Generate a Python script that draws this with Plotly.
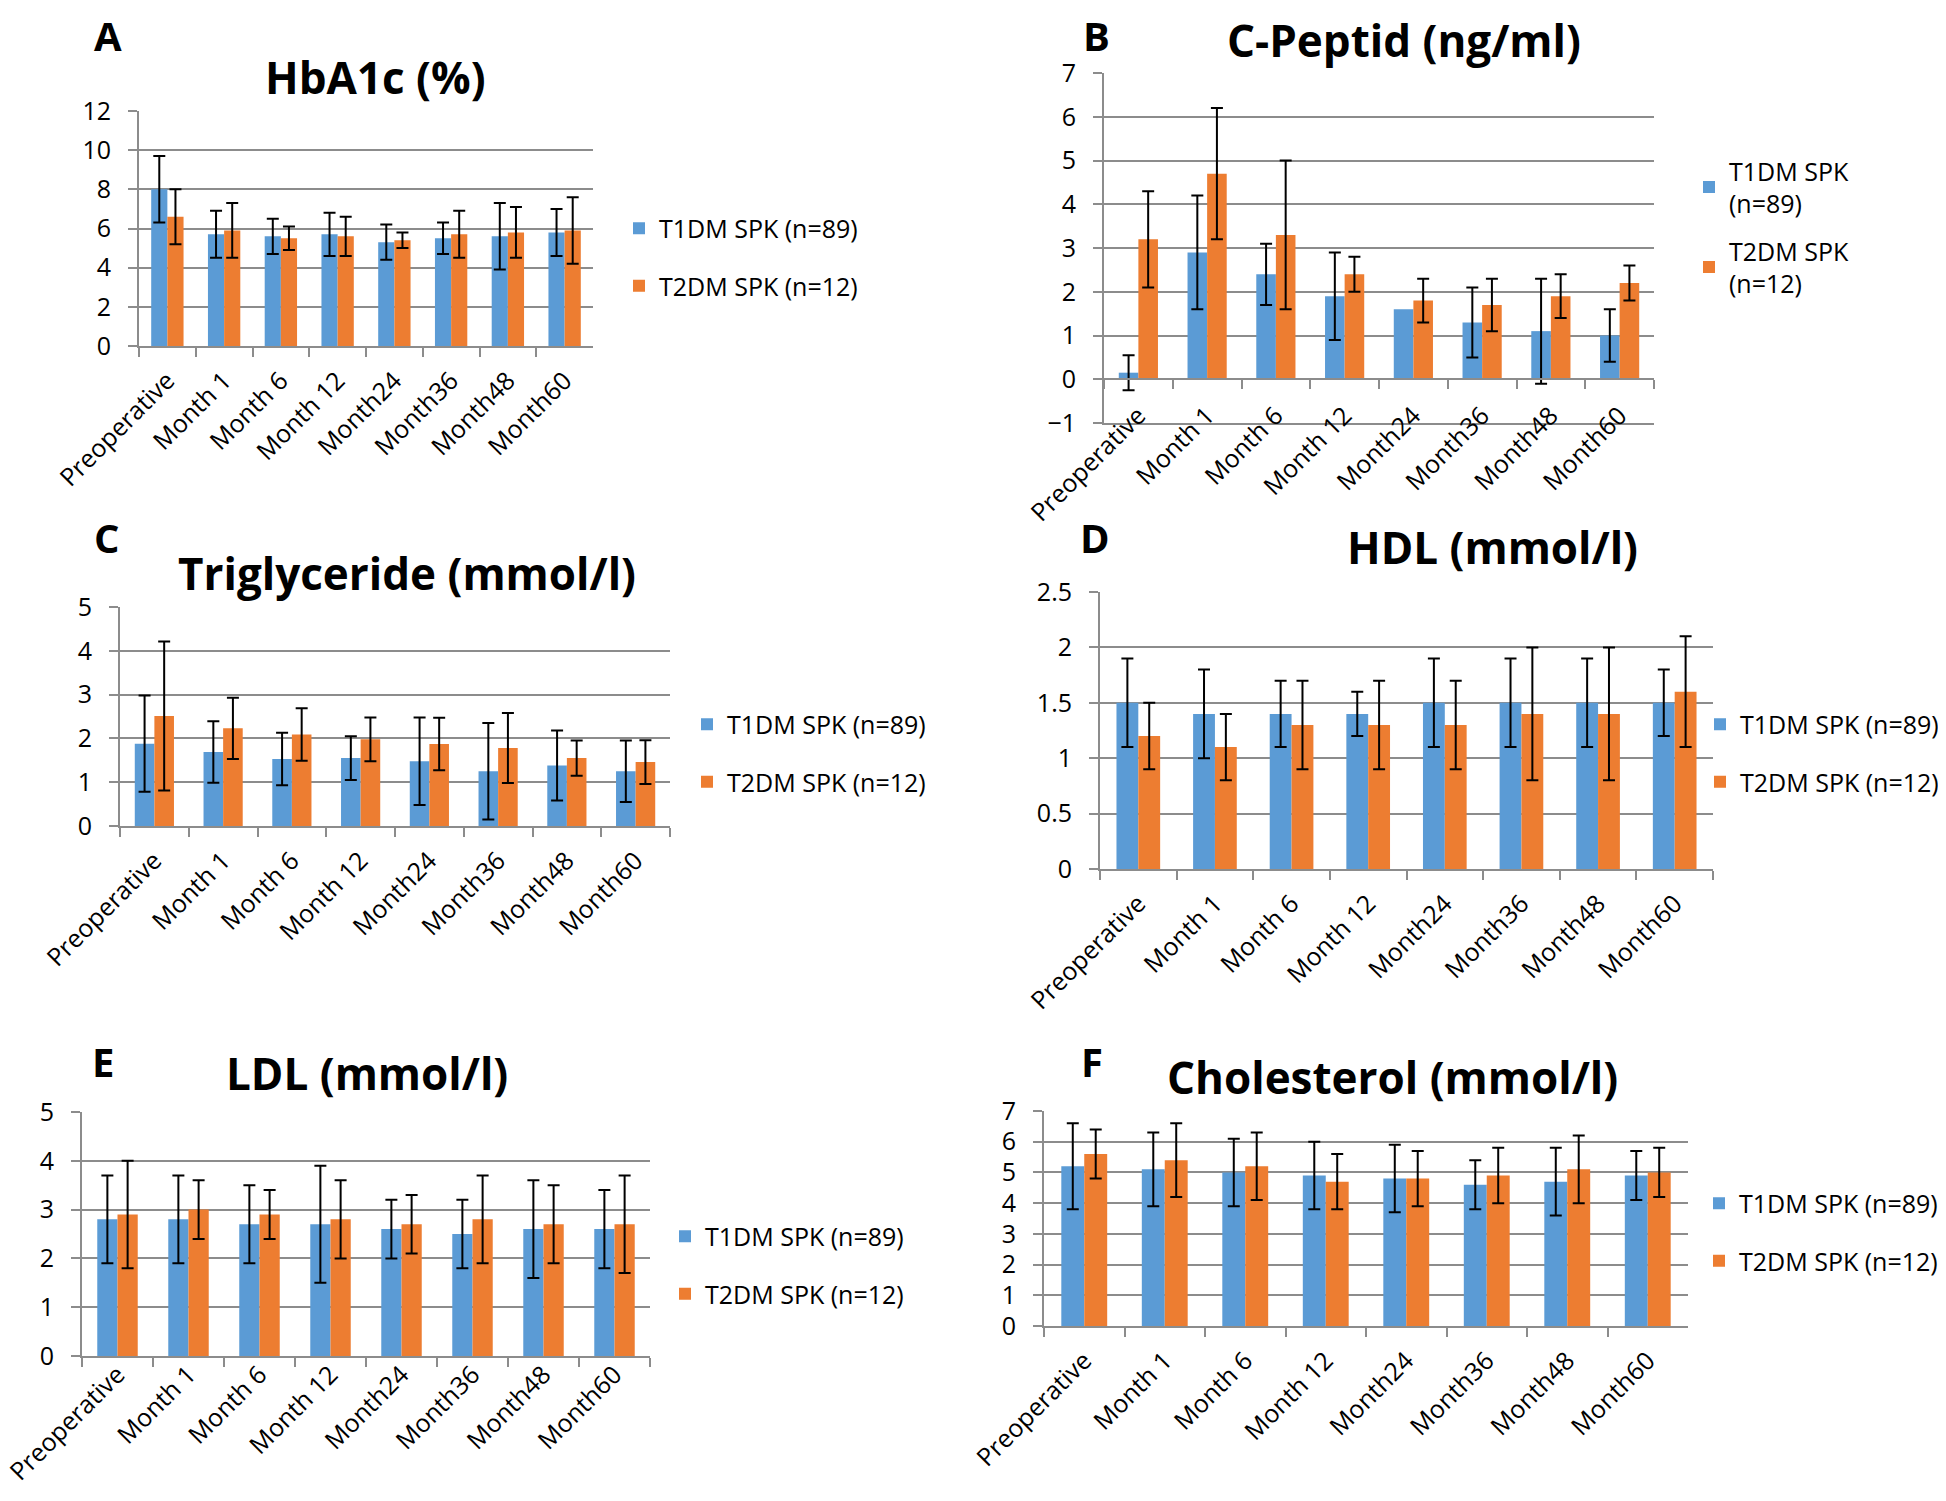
import plotly.graph_objects as go

W, H = 1946, 1501
OFF = 8  # page body margin offset in the browser
FONT = "Open Sans"
BLUE = "#5B9BD5"
ORANGE = "#ED7D31"
GRID = "#8C8C8C"

categories = ["Preoperative", "Month 1", "Month 6", "Month 12",
              "Month24", "Month36", "Month48", "Month60"]

hba1c_t1 = [8.0, 5.7, 5.6, 5.7, 5.3, 5.5, 5.6, 5.8]
hba1c_t1_sd = [1.7, 1.2, 0.9, 1.1, 0.9, 0.8, 1.7, 1.2]
hba1c_t2 = [6.6, 5.9, 5.5, 5.6, 5.4, 5.7, 5.8, 5.9]
hba1c_t2_sd = [1.4, 1.4, 0.6, 1.0, 0.4, 1.2, 1.3, 1.7]

cpep_t1 = [0.15, 2.9, 2.4, 1.9, 1.6, 1.3, 1.1, 1.0]
cpep_t1_sd = [0.4, 1.3, 0.7, 1.0, None, 0.8, 1.2, 0.6]
cpep_t2 = [3.2, 4.7, 3.3, 2.4, 1.8, 1.7, 1.9, 2.2]
cpep_t2_sd = [1.1, 1.5, 1.7, 0.4, 0.5, 0.6, 0.5, 0.4]

tg_t1 = [1.88, 1.69, 1.53, 1.55, 1.48, 1.25, 1.38, 1.25]
tg_t1_sd = [1.1, 0.7, 0.6, 0.5, 1.0, 1.1, 0.8, 0.7]
tg_t2 = [2.51, 2.23, 2.09, 1.98, 1.87, 1.78, 1.55, 1.46]
tg_t2_sd = [1.7, 0.7, 0.6, 0.5, 0.6, 0.8, 0.4, 0.5]

hdl_t1 = [1.5, 1.4, 1.4, 1.4, 1.5, 1.5, 1.5, 1.5]
hdl_t1_sd = [0.4, 0.4, 0.3, 0.2, 0.4, 0.4, 0.4, 0.3]
hdl_t2 = [1.2, 1.1, 1.3, 1.3, 1.3, 1.4, 1.4, 1.6]
hdl_t2_sd = [0.3, 0.3, 0.4, 0.4, 0.4, 0.6, 0.6, 0.5]

ldl_t1 = [2.8, 2.8, 2.7, 2.7, 2.6, 2.5, 2.6, 2.6]
ldl_t1_sd = [0.9, 0.9, 0.8, 1.2, 0.6, 0.7, 1.0, 0.8]
ldl_t2 = [2.9, 3.0, 2.9, 2.8, 2.7, 2.8, 2.7, 2.7]
ldl_t2_sd = [1.1, 0.6, 0.5, 0.8, 0.6, 0.9, 0.8, 1.0]

chol_t1 = [5.2, 5.1, 5.0, 4.9, 4.8, 4.6, 4.7, 4.9]
chol_t1_sd = [1.4, 1.2, 1.1, 1.1, 1.1, 0.8, 1.1, 0.8]
chol_t2 = [5.6, 5.4, 5.2, 4.7, 4.8, 4.9, 5.1, 5.0]
chol_t2_sd = [0.8, 1.2, 1.1, 0.9, 0.9, 0.9, 1.1, 0.8]

series_names = ["T1DM SPK (n=89)", "T2DM SPK (n=12)"]
series_names_wrapped = ["T1DM SPK<br>(n=89)", "T2DM SPK<br>(n=12)"]

panels = [
    dict(letter="A", title="HbA1c (%)", t1=hba1c_t1, t1sd=hba1c_t1_sd, t2=hba1c_t2, t2sd=hba1c_t2_sd,
         yr=[0, 12], dt=2, box=(139, 593, 111, 346), tpos=(375, 77), lpos=(108, 36), leg=(619, 257),
         wrap=False, xstand=8),
    dict(letter="B", title="C-Peptid (ng/ml)", t1=cpep_t1, t1sd=cpep_t1_sd, t2=cpep_t2, t2sd=cpep_t2_sd,
         yr=[-1, 7], dt=1, box=(1104, 1654, 73, 423), tpos=(1404, 40), lpos=(1096, 36), leg=(1689, 227),
         wrap=True, xstand=-34),
    dict(letter="C", title="Triglyceride (mmol/l)", t1=tg_t1, t1sd=tg_t1_sd, t2=tg_t2, t2sd=tg_t2_sd,
         yr=[0, 5], dt=1, box=(120, 670, 607, 826), tpos=(407, 573), lpos=(107, 537), leg=(687, 753),
         wrap=False, xstand=8),
    dict(letter="D", title="HDL (mmol/l)", t1=hdl_t1, t1sd=hdl_t1_sd, t2=hdl_t2, t2sd=hdl_t2_sd,
         yr=[0, 2.5], dt=0.5, box=(1100, 1713, 592, 869), tpos=(1492, 547), lpos=(1095, 537), leg=(1700, 753),
         wrap=False, xstand=8),
    dict(letter="E", title="LDL (mmol/l)", t1=ldl_t1, t1sd=ldl_t1_sd, t2=ldl_t2, t2sd=ldl_t2_sd,
         yr=[0, 5], dt=1, box=(82, 650, 1112, 1356), tpos=(367, 1073), lpos=(103, 1061), leg=(665, 1265),
         wrap=False, xstand=-8),
    dict(letter="F", title="Cholesterol (mmol/l)", t1=chol_t1, t1sd=chol_t1_sd, t2=chol_t2, t2sd=chol_t2_sd,
         yr=[0, 7], dt=1, box=(1044, 1688, 1111, 1326), tpos=(1392, 1077), lpos=(1092, 1061), leg=(1699, 1232),
         wrap=False, xstand=8),
]


def px_x(v):
    return (v - OFF) / W


def px_y(v):
    return 1 - (v - OFF) / H


def err_array(sd):
    return ["NaN" if v is None else v for v in sd]


fig = go.Figure()
layout = dict(
    width=W, height=H, margin=dict(l=0, r=0, t=0, b=0, autoexpand=False),
    paper_bgcolor="white", plot_bgcolor="white",
    barmode="group", bargap=0.43, bargroupgap=0.0,
    font=dict(family=FONT, size=25, color="black"),
    annotations=[],
)

for i, p in enumerate(panels):
    n = i + 1
    sfx = "" if n == 1 else str(n)
    xa, ya = "x" + sfx, "y" + sfx
    legname = "legend" + sfx
    x0, x1, yt, yb = p["box"]
    names = series_names_wrapped if p["wrap"] else series_names
    for vals, sd, color, nm, g in [(p["t1"], p["t1sd"], BLUE, names[0], "a"),
                                   (p["t2"], p["t2sd"], ORANGE, names[1], "b")]:
        fig.add_trace(go.Bar(
            x=categories, y=vals, name=nm, marker=dict(color=color, line=dict(width=0)),
            error_y=dict(type="data", array=err_array(sd), visible=True, color="black",
                         thickness=2, width=6),
            xaxis=xa, yaxis=ya, legend=legname, legendgroup=p["letter"] + g,
        ))
    xdom = [px_x(x0), px_x(x1)]
    ydom = [px_y(yb), px_y(yt)]
    isB = p["letter"] == "B"
    layout["xaxis" + sfx] = dict(
        domain=xdom, anchor=ya, type="category", categoryorder="array", categoryarray=categories,
        range=[-0.5, 7.5], tickson="boundaries", ticks="" if isB else "outside",
        ticklen=9, tickwidth=2, tickcolor=GRID, showline=True, linecolor=GRID, linewidth=2,
        showgrid=False, tickangle=-45, tickfont=dict(size=25, family=FONT, color="black"),
        ticklabelstandoff=p["xstand"],
        automargin=False, fixedrange=True,
    )
    layout["yaxis" + sfx] = dict(
        domain=ydom, anchor=xa, range=p["yr"], dtick=p["dt"], tick0=0,
        showgrid=True, gridcolor=GRID, gridwidth=2, showline=True, linecolor=GRID, linewidth=2,
        ticks="outside", ticklen=9, tickwidth=2, tickcolor=GRID, zeroline=isB,
        zerolinecolor=GRID, zerolinewidth=2, tickfont=dict(size=25, family=FONT, color="black"),
        ticklabelstandoff=12, automargin=False, fixedrange=True,
    )
    lx, ly = p["leg"]
    layout[legname] = dict(
        x=px_x(lx), y=px_y(ly), xanchor="left", yanchor="middle",
        font=dict(size=25, family=FONT, color="black"), bgcolor="rgba(0,0,0,0)",
        traceorder="grouped", tracegroupgap=22 if not p["wrap"] else 12,
    )
    tx, ty = p["tpos"]
    layout["annotations"].append(dict(
        text="<b>" + p["title"] + "</b>", x=px_x(tx), y=px_y(ty), xref="paper", yref="paper",
        xanchor="center", yanchor="middle", showarrow=False, font=dict(size=44, family=FONT, color="black")))
    lxx, lyy = p["lpos"]
    layout["annotations"].append(dict(
        text="<b>" + p["letter"] + "</b>", x=px_x(lxx), y=px_y(lyy), xref="paper", yref="paper",
        xanchor="center", yanchor="middle", showarrow=False, font=dict(size=40, family=FONT, color="black")))

# Panel B: category axis line with boundary ticks at y = 0
pB = panels[1]
x0, x1, yt, yb = pB["box"]
ymin, ymax = pB["yr"]
zero_paper = px_y(yb) + (0 - ymin) / (ymax - ymin) * ((yb - yt) / H)
fig.add_trace(go.Scatter(x=[0], y=[0], xaxis="x7", yaxis="y2", mode="markers",
                         marker=dict(opacity=0), showlegend=False, hoverinfo="skip"))
layout["xaxis7"] = dict(
    domain=[px_x(x0), px_x(x1)], anchor="free", overlaying="x2", position=zero_paper,
    range=[-0.5, 7.5], tickvals=[k - 0.5 for k in range(len(categories) + 1)],
    ticks="outside", ticklen=9, tickwidth=2, tickcolor=GRID, showticklabels=False,
    showline=True, linecolor=GRID, linewidth=2, showgrid=False, zeroline=False, fixedrange=True,
)

fig.update_layout(**layout)
fig.write_html("out.html")
